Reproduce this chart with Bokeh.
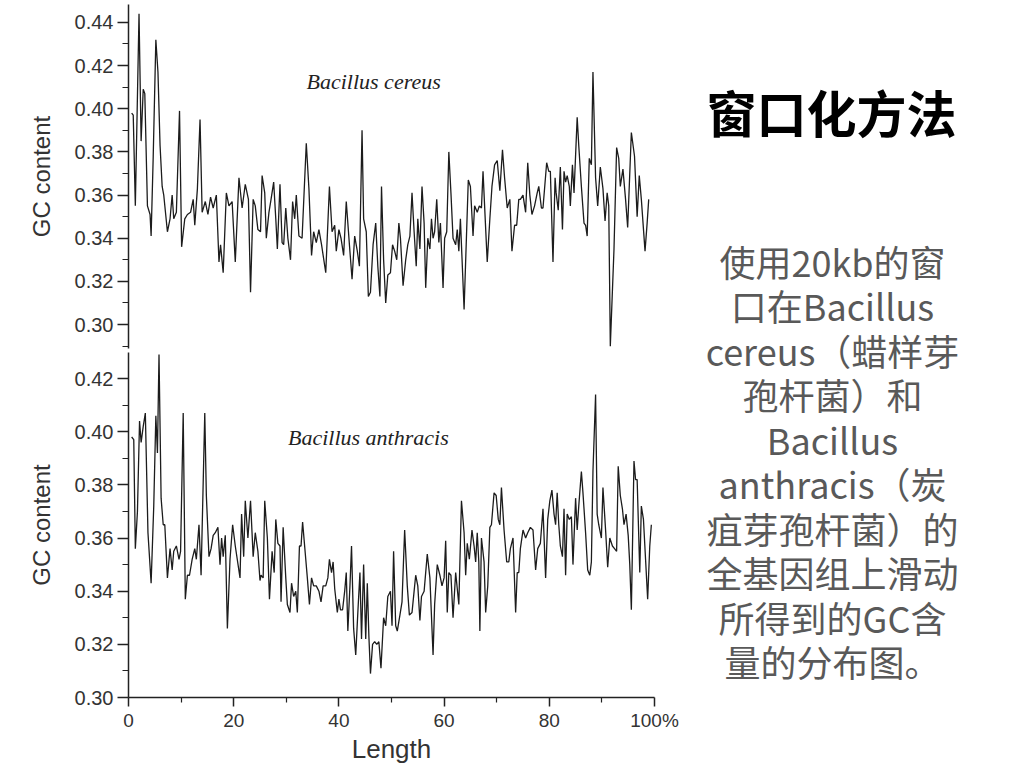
from bokeh.plotting import figure
from bokeh.models import Range1d, FixedTicker, PrintfTickFormatter, Label
from bokeh.layouts import row, column
from bokeh.embed import file_html
from bokeh.resources import INLINE
from bokeh.core.properties import value

# ---------------- data ----------------
cereus_x = [0.6, 0.9, 1.3, 2.0, 2.4, 2.8, 3.1, 3.6, 4.1, 4.3, 4.7, 5.2, 5.6, 6.0, 6.4, 6.7, 7.4, 7.9, 8.3, 8.6,
            9.1, 9.7, 10.1, 10.7, 11.2, 11.8, 12.3, 12.6, 13.1, 13.6, 14.0, 14.6, 15.1, 15.6, 16.1, 16.7, 17.2, 17.5, 18.0, 18.6,
            19.1, 19.7, 20.3, 21.0, 21.6, 22.2, 22.8, 23.2, 23.7, 24.1, 24.6, 25.1, 25.4, 25.9, 26.2, 26.7, 27.1, 27.6, 28.0, 28.3,
            28.8, 29.2, 29.5, 29.9, 30.3, 30.8, 31.2, 31.6, 31.9, 32.4, 33.0, 33.8, 34.3, 34.8, 35.2, 35.7, 36.2, 36.7, 37.5, 38.2,
            38.7, 39.2, 39.5, 40.0, 40.4, 40.9, 41.4, 42.0, 42.5, 43.0, 43.5, 43.9, 44.4, 44.7, 45.2, 45.6, 46.0, 46.5, 47.0, 47.4,
            47.8, 48.1, 48.5, 48.9, 49.3, 49.8, 50.2, 50.6, 51.0, 51.4, 51.7, 52.2, 52.7, 53.1, 53.5, 53.9, 54.3, 54.7, 55.0, 55.4,
            55.8, 56.2, 56.5, 56.9, 57.3, 57.6, 57.9, 58.2, 58.6, 59.0, 59.3, 59.8, 60.1, 60.5, 60.9, 61.3, 61.7, 62.2, 62.5, 62.8,
            63.1, 63.8, 64.2, 64.6, 65.0, 65.5, 65.8, 66.3, 66.7, 67.1, 67.4, 67.7, 68.2, 68.7, 69.1, 69.6, 70.1, 70.6, 71.1, 71.5,
            72.0, 72.5, 72.9, 73.4, 73.8, 74.2, 74.5, 75.0, 75.5, 75.9, 76.3, 76.7, 77.2, 77.7, 78.0, 78.5, 78.8, 79.5, 79.9, 80.2,
            80.7, 81.1, 81.3, 81.7, 82.1, 82.5, 82.8, 83.1, 83.4, 83.8, 84.0, 84.4, 84.7, 85.3, 85.6, 86.1, 86.6, 86.9, 87.2, 87.6,
            88.0, 88.3, 88.8, 89.2, 89.7, 90.2, 90.6, 91.0, 91.3, 91.6, 92.3, 92.8, 93.2, 93.5, 94.0, 94.5, 94.9, 95.6, 96.2, 96.7,
            97.1, 97.5, 98.2, 98.6, 98.9]
cereus_gc = [0.398, 0.397, 0.355, 0.444, 0.385, 0.409, 0.407, 0.355, 0.351, 0.341, 0.378, 0.432, 0.417, 0.383, 0.364, 0.360, 0.343, 0.349, 0.360, 0.349,
             0.352, 0.399, 0.336, 0.349, 0.351, 0.352, 0.358, 0.346, 0.363, 0.395, 0.352, 0.357, 0.351, 0.359, 0.354, 0.360, 0.329, 0.337, 0.324, 0.361,
             0.355, 0.357, 0.329, 0.368, 0.354, 0.365, 0.358, 0.315, 0.358, 0.355, 0.344, 0.343, 0.369, 0.361, 0.340, 0.352, 0.358, 0.366, 0.349, 0.335,
             0.365, 0.338, 0.337, 0.354, 0.340, 0.330, 0.357, 0.349, 0.360, 0.341, 0.340, 0.384, 0.363, 0.332, 0.343, 0.338, 0.344, 0.337, 0.324, 0.364,
             0.343, 0.346, 0.334, 0.344, 0.340, 0.332, 0.357, 0.337, 0.321, 0.341, 0.334, 0.327, 0.390, 0.349, 0.343, 0.313, 0.315, 0.337, 0.347, 0.327,
             0.313, 0.364, 0.330, 0.310, 0.323, 0.324, 0.337, 0.334, 0.330, 0.347, 0.340, 0.318, 0.330, 0.337, 0.341, 0.361, 0.343, 0.327, 0.349, 0.335,
             0.364, 0.347, 0.317, 0.340, 0.335, 0.349, 0.340, 0.343, 0.358, 0.338, 0.347, 0.317, 0.340, 0.343, 0.380, 0.361, 0.340, 0.337, 0.344, 0.334,
             0.349, 0.307, 0.337, 0.367, 0.364, 0.341, 0.355, 0.352, 0.355, 0.354, 0.371, 0.355, 0.329, 0.349, 0.364, 0.374, 0.376, 0.362, 0.381, 0.368,
             0.354, 0.358, 0.334, 0.346, 0.346, 0.358, 0.358, 0.360, 0.352, 0.375, 0.360, 0.351, 0.355, 0.361, 0.364, 0.354, 0.354, 0.375, 0.371, 0.371,
             0.329, 0.368, 0.361, 0.353, 0.373, 0.344, 0.371, 0.366, 0.369, 0.364, 0.355, 0.374, 0.361, 0.396, 0.383, 0.364, 0.347, 0.346, 0.341, 0.377,
             0.374, 0.417, 0.368, 0.355, 0.373, 0.363, 0.348, 0.361, 0.355, 0.290, 0.335, 0.382, 0.377, 0.364, 0.372, 0.358, 0.345, 0.389, 0.378, 0.350,
             0.369, 0.358, 0.334, 0.347, 0.358]

anthracis_x = [0.6, 1.0, 1.3, 1.7, 2.1, 2.4, 2.8, 3.2, 3.7, 4.3, 4.8, 5.2, 5.5, 5.8, 6.2, 6.6, 6.9, 7.4, 7.9, 8.3,
               8.6, 9.1, 9.6, 9.9, 10.4, 10.8, 11.2, 11.6, 12.1, 12.6, 12.9, 13.4, 13.8, 14.5, 14.8, 15.3, 15.7, 16.1, 16.5, 17.0,
               17.4, 17.7, 18.0, 18.4, 18.8, 19.3, 19.8, 20.3, 21.2, 21.5, 21.9, 22.2, 22.7, 23.2, 23.7, 24.1, 24.6, 25.0, 25.2, 25.6,
               25.9, 26.4, 26.8, 27.3, 27.7, 28.0, 28.4, 28.8, 29.0, 29.4, 29.9, 30.2, 30.7, 31.0, 31.4, 31.8, 32.1, 32.5, 32.8, 33.1,
               33.7, 34.0, 34.4, 34.8, 35.2, 35.7, 36.2, 36.6, 37.0, 37.5, 37.9, 38.2, 38.6, 38.9, 39.2, 39.7, 40.0, 40.3, 40.7, 41.1,
               41.4, 41.7, 42.1, 42.4, 42.8, 43.2, 43.6, 44.0, 44.3, 44.7, 45.1, 45.4, 45.7, 46.0, 46.4, 46.8, 47.2, 47.6, 48.0, 48.5,
               48.9, 49.3, 49.8, 50.1, 50.4, 50.8, 51.1, 51.6, 52.0, 52.5, 53.0, 53.4, 53.9, 54.3, 54.6, 55.0, 55.4, 55.7, 56.2, 56.5,
               56.8, 57.3, 57.9, 58.2, 58.7, 59.2, 59.6, 60.0, 60.3, 60.6, 60.9, 61.3, 61.7, 62.2, 62.5, 62.8, 63.3, 63.8, 64.1, 64.4,
               64.8, 65.3, 65.7, 66.0, 66.3, 66.6, 66.8, 67.1, 67.6, 67.9, 68.3, 68.7, 69.0, 69.5, 69.9, 70.3, 70.6, 70.9, 71.4, 71.9,
               72.3, 72.6, 73.1, 73.6, 73.9, 74.2, 74.5, 75.0, 75.5, 75.9, 76.4, 76.9, 77.4, 77.8, 78.3, 78.8, 79.3, 79.7, 80.1, 80.5,
               80.9, 81.2, 81.5, 81.8, 82.1, 82.5, 82.8, 83.1, 83.4, 83.8, 84.2, 84.5, 85.0, 85.3, 85.6, 86.1, 86.4, 86.9, 87.3, 87.7,
               88.0, 88.3, 88.8, 89.1, 89.4, 89.9, 90.2, 90.7, 91.1, 91.5, 92.0, 92.4, 92.8, 93.1, 93.5, 93.9, 94.2, 94.6, 95.0, 95.3,
               95.6, 96.1, 96.4, 96.7, 97.2, 97.5, 97.9, 98.3, 98.7, 99.1, 99.4]
anthracis_gc = [0.398, 0.397, 0.356, 0.370, 0.404, 0.396, 0.402, 0.407, 0.362, 0.343, 0.372, 0.406, 0.392, 0.429, 0.375, 0.365, 0.365, 0.345, 0.356, 0.348,
                0.355, 0.357, 0.352, 0.355, 0.407, 0.337, 0.346, 0.346, 0.352, 0.356, 0.352, 0.365, 0.346, 0.407, 0.376, 0.353, 0.356, 0.361, 0.362, 0.364,
                0.350, 0.360, 0.353, 0.361, 0.326, 0.352, 0.365, 0.357, 0.345, 0.369, 0.353, 0.374, 0.360, 0.374, 0.353, 0.362, 0.355, 0.344, 0.346, 0.345,
                0.374, 0.360, 0.337, 0.355, 0.347, 0.367, 0.358, 0.357, 0.336, 0.364, 0.345, 0.335, 0.332, 0.343, 0.338, 0.340, 0.332, 0.357, 0.357, 0.366,
                0.352, 0.345, 0.335, 0.345, 0.342, 0.342, 0.340, 0.336, 0.342, 0.342, 0.345, 0.352, 0.347, 0.351, 0.341, 0.332, 0.337, 0.333, 0.333, 0.340,
                0.347, 0.325, 0.342, 0.357, 0.326, 0.316, 0.332, 0.347, 0.322, 0.350, 0.322, 0.343, 0.323, 0.309, 0.320, 0.321, 0.320, 0.321, 0.311, 0.330,
                0.327, 0.338, 0.340, 0.327, 0.355, 0.327, 0.325, 0.331, 0.336, 0.363, 0.342, 0.331, 0.332, 0.340, 0.346, 0.342, 0.329, 0.338, 0.340, 0.347,
                0.354, 0.345, 0.316, 0.335, 0.350, 0.346, 0.342, 0.345, 0.359, 0.332, 0.347, 0.346, 0.330, 0.347, 0.341, 0.335, 0.374, 0.362, 0.346, 0.358,
                0.352, 0.363, 0.357, 0.351, 0.362, 0.351, 0.325, 0.360, 0.351, 0.332, 0.342, 0.364, 0.365, 0.377, 0.376, 0.367, 0.365, 0.379, 0.363, 0.351,
                0.351, 0.356, 0.360, 0.332, 0.347, 0.347, 0.356, 0.363, 0.360, 0.362, 0.364, 0.363, 0.348, 0.356, 0.358, 0.371, 0.345, 0.367, 0.374, 0.378,
                0.369, 0.365, 0.377, 0.365, 0.357, 0.353, 0.371, 0.346, 0.369, 0.367, 0.368, 0.350, 0.375, 0.363, 0.372, 0.385, 0.377, 0.362, 0.348, 0.346,
                0.351, 0.385, 0.414, 0.369, 0.365, 0.360, 0.379, 0.363, 0.349, 0.360, 0.357, 0.356, 0.355, 0.387, 0.376, 0.371, 0.365, 0.369, 0.361, 0.350,
                0.333, 0.389, 0.382, 0.382, 0.347, 0.372, 0.367, 0.352, 0.337, 0.357, 0.365]

top_yticks = [0.30, 0.32, 0.34, 0.36, 0.38, 0.40, 0.42, 0.44]
top_yminor = [0.29, 0.31, 0.33, 0.35, 0.37, 0.39, 0.41, 0.43]
bot_yticks = [0.30, 0.32, 0.34, 0.36, 0.38, 0.40, 0.42]
bot_yminor = [0.31, 0.33, 0.35, 0.37, 0.39, 0.41]
xticks = [0, 20, 40, 60, 80, 100]
xminor = [10, 30, 50, 70, 90]

top_label = "Bacillus cereus"
bot_label = "Bacillus anthracis"
y_title = "GC content"
x_title = "Length"
heading = "窗口化方法"
body_lines = ["使用20kb的窗", "口在Bacillus", "cereus（蜡样芽", "孢杆菌）和", "Bacillus",
              "anthracis（炭", "疽芽孢杆菌）的", "全基因组上滑动", "所得到的GC含", "量的分布图。"]

FONT = "Liberation Sans"
AXIS_COLOR = "#222222"
LABEL_COLOR = "#333333"
LINE_COLOR = "#1c1c1c"


def style_y(p, ticks, minor):
    ax = p.yaxis[0]
    ax.ticker = FixedTicker(ticks=ticks, minor_ticks=minor)
    ax.formatter = PrintfTickFormatter(format="%.2f")
    ax.axis_label = y_title
    ax.axis_label_text_font = FONT
    ax.axis_label_text_font_style = "normal"
    ax.axis_label_text_font_size = "24px"
    ax.axis_label_text_color = LABEL_COLOR
    ax.axis_label_standoff = 17
    ax.major_label_text_font = FONT
    ax.major_label_text_font_size = "20px"
    ax.major_label_text_color = LABEL_COLOR
    ax.major_label_standoff = 4
    ax.axis_line_color = AXIS_COLOR
    ax.axis_line_width = 1.5
    ax.major_tick_line_color = AXIS_COLOR
    ax.major_tick_line_width = 1.5
    ax.major_tick_out = 11
    ax.major_tick_in = 0
    ax.minor_tick_line_color = AXIS_COLOR
    ax.minor_tick_line_width = 1.2
    ax.minor_tick_out = 6
    ax.minor_tick_in = 0


common = dict(width=684, output_backend="svg", toolbar_location=None,
              min_border_left=128, min_border_right=30)

p1 = figure(height=350, x_range=Range1d(0, 100), y_range=Range1d(0.2889, 0.4483),
            x_axis_location=None, min_border_top=4, min_border_bottom=2, **common)
p1.line(cereus_x, cereus_gc, line_color=LINE_COLOR, line_width=1.3)
style_y(p1, top_yticks, top_yminor)
p1.grid.visible = False
p1.outline_line_color = None
p1.add_layout(Label(x=46.6, y=0.4126, text=top_label, text_font="Liberation Serif",
                    text_font_style="italic", text_font_size="22px", text_align="center",
                    text_baseline="middle", text_color="#222222"))

p2 = figure(height=418, x_range=Range1d(0, 100), y_range=Range1d(0.30, 0.4298),
            min_border_top=2, min_border_bottom=71, **common)
p2.line(anthracis_x, anthracis_gc, line_color=LINE_COLOR, line_width=1.3)
style_y(p2, bot_yticks, bot_yminor)
p2.grid.visible = False
p2.outline_line_color = None
p2.add_layout(Label(x=45.6, y=0.3978, text=bot_label, text_font="Liberation Serif",
                    text_font_style="italic", text_font_size="22px", text_align="center",
                    text_baseline="middle", text_color="#222222"))
xa = p2.xaxis[0]
xa.ticker = FixedTicker(ticks=xticks, minor_ticks=xminor)
xa.major_label_overrides = {100: "100%"}
xa.axis_label = x_title
xa.axis_label_text_font = FONT
xa.axis_label_text_font_style = "normal"
xa.axis_label_text_font_size = "26px"
xa.axis_label_text_color = LABEL_COLOR
xa.axis_label_standoff = 0
xa.major_label_text_font = FONT
xa.major_label_text_font_size = "19px"
xa.major_label_text_color = LABEL_COLOR
xa.major_label_standoff = 3
xa.axis_line_color = AXIS_COLOR
xa.axis_line_width = 1.5
xa.major_tick_line_color = AXIS_COLOR
xa.major_tick_line_width = 1.5
xa.major_tick_out = 9
xa.major_tick_in = 0
xa.minor_tick_line_color = AXIS_COLOR
xa.minor_tick_line_width = 1.2
xa.minor_tick_out = 5
xa.minor_tick_in = 0

# right-hand text panel (range expressed in page pixels)
p3 = figure(width=340, height=768, x_range=Range1d(684, 1024), y_range=Range1d(768, 0),
            output_backend="svg", toolbar_location=None, x_axis_location=None,
            y_axis_location=None, min_border=0)
p3.grid.visible = False
p3.outline_line_color = None
p3.text(x=[831], y=[110], text=[heading], text_align="center", text_baseline="middle",
        text_font=value("Noto Sans CJK SC"), text_font_style="bold", text_font_size="50px",
        text_color="#000000")
line_y = [260 + 44.5 * i for i in range(len(body_lines))]
p3.text(x=[832] * len(body_lines), y=line_y, text=body_lines, text_align="center",
        text_baseline="middle", text_font=value("Noto Sans CJK SC"), text_font_size="36px",
        text_color="#595959")

layout = row(column(p1, p2), p3)
open("out.html", "w").write(file_html(layout, INLINE))
